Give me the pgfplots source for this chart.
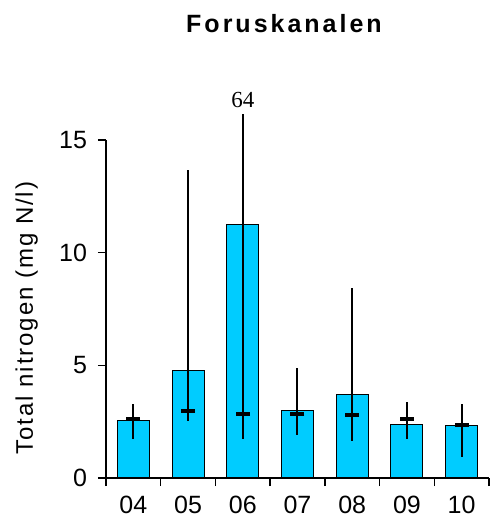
\documentclass[border=0pt]{standalone}
\usepackage{fontspec}
\setmainfont{Liberation Sans}
\newfontfamily\serifnum{Liberation Serif}
\newfontfamily\titlefont[LetterSpace=12]{Liberation Sans}
\newfontfamily\ylabfont[LetterSpace=8]{Liberation Sans}
\usepackage{pgfplots}
\pgfplotsset{compat=1.18}
\definecolor{barcyan}{RGB}{0,204,255}
\begin{document}
\begin{tikzpicture}
\begin{axis}[
  scale only axis, width=191.5pt, height=169pt,
  xmin=-0.5, xmax=6.5, ymin=0, ymax=15,
  axis lines*=left,
  axis line style={line width=0.75pt, black},
  clip=false,
  xtick={0,...,6},
  xticklabels={04,05,06,07,08,09,10},
  minor xtick={-0.5,0.5,...,6.5},
  every major x tick/.append style={draw=none},
  ytick={0,5,10,15},
  tick align=outside,
  major tick length=4pt, minor tick length=4pt,
  tick style={line width=0.75pt, black},
  ticklabel style={font=\fontsize{12.5}{14}\selectfont},
  xticklabel style={inner sep=1pt, text depth=0pt, yshift=-4pt},
  yticklabel style={xshift=-2pt},
  /pgf/number format/assume math mode=true,
]
\coordinate (O) at (rel axis cs:0,0);
\addplot[ybar, bar width=16pt, bar shift=0pt, fill=barcyan, draw=black, line width=0.5pt]
  coordinates {(0,2.57) (1,4.78) (2,11.24) (3,3.00) (4,3.72) (5,2.39) (6,2.31)};
\addplot[only marks, black, mark=-, mark size=3.5pt, mark options={line width=2pt, black},
  error bars/.cd, y dir=both, y explicit, error mark=none,
  error bar style={line width=1pt, black}]
  coordinates {
  (0,2.61) += (0,0.69) -= (0,0.88)
  (1,2.96) += (0,10.70) -= (0,0.42)
  (2,2.86) += (0,13.29) -= (0,1.13)
  (3,2.86) += (0,2.02) -= (0,0.93)
  (4,2.79) += (0,5.63) -= (0,1.14)
  (5,2.61) += (0,0.77) -= (0,0.88)
  (6,2.35) += (0,0.94) -= (0,1.41)
  };
\node[font=\serifnum\fontsize{11.5}{12}\selectfont, anchor=south, inner sep=0pt, yshift=3pt] at (axis cs:2,16.15) {64};
\end{axis}
\node[font=\titlefont\bfseries\fontsize{12.5}{14}\selectfont, anchor=base] at ([xshift=89pt, yshift=222.5pt]O) {Foruskanalen};
\node[rotate=90, anchor=base, font=\ylabfont\fontsize{12}{14}\selectfont] at ([xshift=-36.5pt, yshift=80pt]O) {Total nitrogen (mg N/l)};
\pgfresetboundingbox
\path[use as bounding box] (O) ++(-53pt,-20.5pt) rectangle ++(244.5pt,259.5pt);
\end{tikzpicture}
\end{document}
